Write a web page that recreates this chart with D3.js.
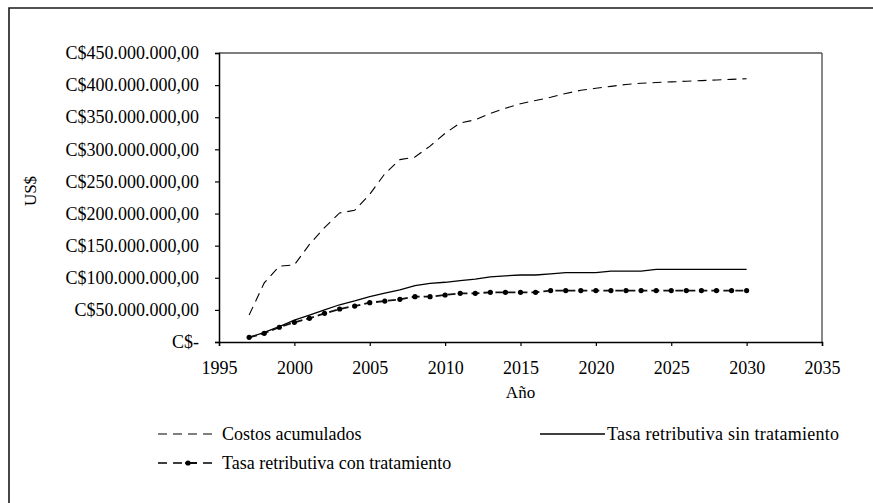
<!DOCTYPE html>
<html>
<head>
<meta charset="utf-8">
<script src="https://cdn.jsdelivr.net/npm/d3@7/dist/d3.min.js"></script>
<style>
  html, body { margin: 0; padding: 0; background: #fff; }
  svg { display: block; }
  text { font-family: "Liberation Serif", "Times New Roman", serif; fill: #000; }
</style>
</head>
<body>
<svg id="chart" width="873" height="503"></svg>
<script>
// Years of the projection
const years = d3.range(1997, 2031);

// Accumulated costs (millions C$)
const costosAcumulados = [42, 92, 118, 120, 152, 178, 201, 205, 230, 262, 284, 288, 305, 325, 341, 346,
  356, 364, 371, 376, 381, 387, 392, 395, 398, 401, 403, 404, 405, 406, 407, 408, 409, 410];

// Retributive fee without treatment (millions C$)
const tasaSinTratamiento = [7, 15, 24, 34, 42, 50, 58, 64, 70.6, 76, 81, 87.7, 91.4, 93, 95.5, 98,
  101.5, 103, 104.3, 104.3, 106, 108, 108, 108, 110.5, 110.5, 110.5, 113, 113, 113, 113, 113, 113, 113];

// Retributive fee with treatment (millions C$)
const tasaConTratamiento = [7.3, 13.5, 23, 30.6, 36.9, 44.6, 51.4, 56, 61.2, 63.8, 66.4, 70.6, 70.6, 73.2,
  75.8, 75.8, 77.4, 77.4, 77.4, 77.4, 80, 80, 80, 80, 80, 80, 80, 80, 80, 80, 80, 80, 80, 80];

// Axis ticks
const xTicks = [1995, 2000, 2005, 2010, 2015, 2020, 2025, 2030, 2035];
const yTicks = [0, 50, 100, 150, 200, 250, 300, 350, 400, 450];
const yTickLabels = ["C$-", "C$50.000.000,00", "C$100.000.000,00", "C$150.000.000,00", "C$200.000.000,00",
  "C$250.000.000,00", "C$300.000.000,00", "C$350.000.000,00", "C$400.000.000,00", "C$450.000.000,00"];

const seriesNames = ["Costos acumulados", "Tasa retributiva sin tratamiento", "Tasa retributiva con tratamiento"];

const svg = d3.select("#chart");

// Outer frame (top and left edges)
svg.append("path")
  .attr("d", "M9,503 V8 H873")
  .attr("fill", "none").attr("stroke", "#1a1a1a").attr("stroke-width", 1.6);

const plot = { left: 219, right: 822, top: 53, bottom: 342 };

const x = d3.scaleLinear().domain([1995, 2035]).range([plot.left, plot.right]);
const y = d3.scaleLinear().domain([0, 450]).range([plot.bottom, plot.top]);

// Plot border
svg.append("line").attr("x1", plot.left).attr("x2", plot.right).attr("y1", plot.top).attr("y2", plot.top)
  .attr("stroke", "#000").attr("stroke-width", 1.2);
svg.append("line").attr("x1", plot.right).attr("x2", plot.right).attr("y1", plot.top).attr("y2", plot.bottom)
  .attr("stroke", "#555").attr("stroke-width", 1.4);

// Y axis
const yAxis = d3.axisLeft(y).tickValues(yTicks).tickSize(4).tickPadding(16)
  .tickFormat((d, i) => yTickLabels[i]);
const gy = svg.append("g").attr("transform", `translate(${plot.left},0)`).call(yAxis);
gy.attr("font-family", null);
gy.select(".domain").attr("stroke", "#000").attr("stroke-width", 1.5);
gy.selectAll(".tick line").attr("stroke", "#000").attr("stroke-width", 1.2);
gy.selectAll(".tick text").attr("font-size", 18).attr("fill", "#111");

// X axis
const xAxis = d3.axisBottom(x).tickValues(xTicks).tickSize(4).tickPadding(15).tickFormat(d3.format("d"));
const gx = svg.append("g").attr("transform", `translate(0,${plot.bottom})`).call(xAxis);
gx.attr("font-family", null);
gx.select(".domain").attr("stroke", "#000").attr("stroke-width", 1.5);
gx.selectAll(".tick line").attr("stroke", "#000").attr("stroke-width", 1.2);
gx.selectAll(".tick text").attr("font-size", 18).attr("fill", "#111");

// Axis titles
svg.append("text").attr("x", (plot.left + plot.right) / 2).attr("y", 398)
  .attr("text-anchor", "middle").attr("font-size", 17).text("Año");
svg.append("text").attr("transform", "translate(36,191) rotate(-90)")
  .attr("text-anchor", "middle").attr("font-size", 17).text("US$");

const line = d3.line().x((d, i) => x(years[i])).y(d => y(d));

// Accumulated costs: thin dashed
svg.append("path").datum(costosAcumulados).attr("d", line)
  .attr("fill", "none").attr("stroke", "#000").attr("stroke-width", 1.1)
  .attr("stroke-dasharray", "9,6");

// Without treatment: solid
svg.append("path").datum(tasaSinTratamiento).attr("d", line)
  .attr("fill", "none").attr("stroke", "#000").attr("stroke-width", 1.3);

// With treatment: heavier dashed with point markers
svg.append("path").datum(tasaConTratamiento).attr("d", line)
  .attr("fill", "none").attr("stroke", "#111").attr("stroke-width", 1.8)
  .attr("stroke-dasharray", "8,4");
svg.append("g").selectAll("circle").data(tasaConTratamiento).join("circle")
  .attr("cx", (d, i) => x(years[i])).attr("cy", d => y(d)).attr("r", 2.6).attr("fill", "#000");

// Legend
const legend = svg.append("g");
const legendItems = [
  { name: seriesNames[0], x0: 158, x1: 212, y: 434, dash: "9,6", w: 1.1, marker: false, sp: 0 },
  { name: seriesNames[1], x0: 540, x1: 605, y: 434, dash: null, w: 1.3, marker: false, sp: 0.25 },
  { name: seriesNames[2], x0: 158, x1: 212, y: 463, dash: "9,6", w: 1.6, marker: true, sp: 0 }
];
legendItems.forEach(it => {
  legend.append("line").attr("x1", it.x0).attr("x2", it.x1).attr("y1", it.y).attr("y2", it.y)
    .attr("stroke", "#000").attr("stroke-width", it.w)
    .attr("stroke-dasharray", it.dash);
  if (it.marker) {
    legend.append("circle").attr("cx", 188).attr("cy", it.y).attr("r", 2.6).attr("fill", "#000");
    legend.append("line").attr("x1", 185).attr("x2", 197).attr("y1", it.y).attr("y2", it.y)
      .attr("stroke", "#000").attr("stroke-width", it.w);
  }
  legend.append("text").attr("x", it.x1 + (it.dash ? 10 : 2)).attr("y", it.y + 6)
    .attr("font-size", 18).attr("letter-spacing", it.sp).attr("fill", "#111").text(it.name);
});
</script>
</body>
</html>
